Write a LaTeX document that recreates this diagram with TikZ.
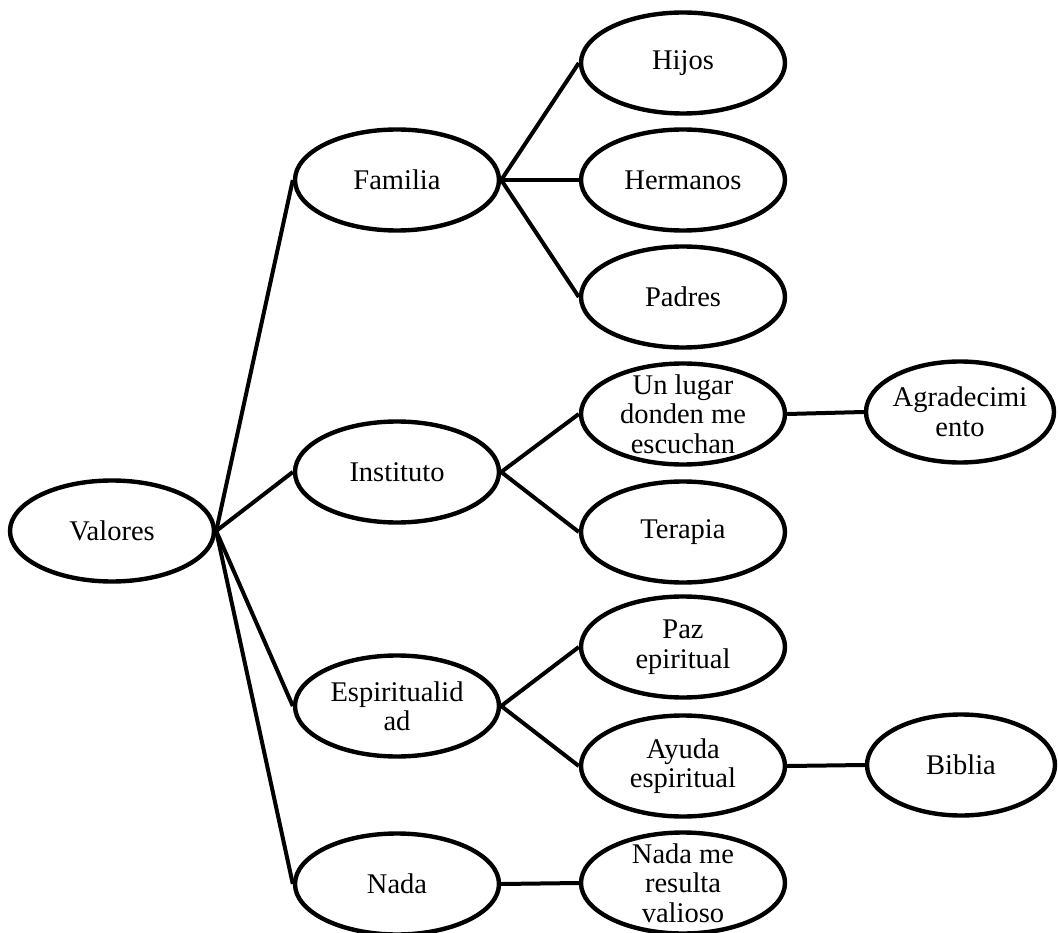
\documentclass[tikz,border=0pt]{standalone}
\usepackage{fontspec}
\setmainfont{Liberation Serif}
\usetikzlibrary{shapes.geometric}
\begin{document}
\begin{tikzpicture}[x=1pt,y=-1pt,
  ell/.style={ellipse, draw, line width=4.4pt, minimum width=204pt, minimum height=101pt, inner sep=0pt},
  ellb/.style={ell, minimum width=188pt},
  txt/.style={align=center, inner sep=0pt, font=\fontsize{28.5}{29.5}\selectfont},
  con/.style={line width=4pt}]
\useasboundingbox (0,0) rectangle (1058,933);
% level 0
\node[ell, label={[txt]center:{Valores}}] (valores) at (112,531) {};
% level 1
\node[ell, label={[txt]center:{Familia}}] (familia) at (397,180) {};
\node[ell, label={[txt]center:{Instituto}}] (instituto) at (397,472) {};
\node[ell, label={[txt]center:{Espiritualid\\ad}}] (espiritualidad) at (397,706) {};
\node[ell, label={[txt]center:{Nada}}] (nada) at (397,884) {};
% level 2
\node[ell, label={[txt]center:{Hijos}}] (hijos) at (683,63) {};
\node[ell, label={[txt]center:{Hermanos}}] (hermanos) at (683,180) {};
\node[ell, label={[txt]center:{Padres}}] (padres) at (683,297) {};
\node[ell, label={[txt]center:{Un lugar\\donden me\\escuchan}}] (lugar) at (683,414) {};
\node[ell, label={[txt]center:{Terapia}}] (terapia) at (683,532) {};
\node[ell, label={[txt]center:{Paz\\epiritual}}] (paz) at (683,647) {};
\node[ell, label={[txt]center:{Ayuda\\espiritual}}] (ayuda) at (683,766) {};
\node[ell, label={[txt]center:{Nada me\\resulta\\valioso}}] (nadame) at (683,883) {};
% level 3
\node[ellb, label={[txt]center:{Agradecimi\\ento}}] (agradecimiento) at (960,412) {};
\node[ellb, label={[txt]center:{Biblia}}] (biblia) at (961,765) {};
% connectors
\foreach \c in {familia,instituto,espiritualidad,nada}
  \draw[con] (valores.east) -- (\c.west);
\foreach \c in {hijos,hermanos,padres}
  \draw[con] (familia.east) -- (\c.west);
\foreach \c in {lugar,terapia}
  \draw[con] (instituto.east) -- (\c.west);
\foreach \c in {paz,ayuda}
  \draw[con] (espiritualidad.east) -- (\c.west);
\draw[con] (nada.east) -- (nadame.west);
\draw[con] (lugar.east) -- (agradecimiento.west);
\draw[con] (ayuda.east) -- (biblia.west);
\end{tikzpicture}
\end{document}
